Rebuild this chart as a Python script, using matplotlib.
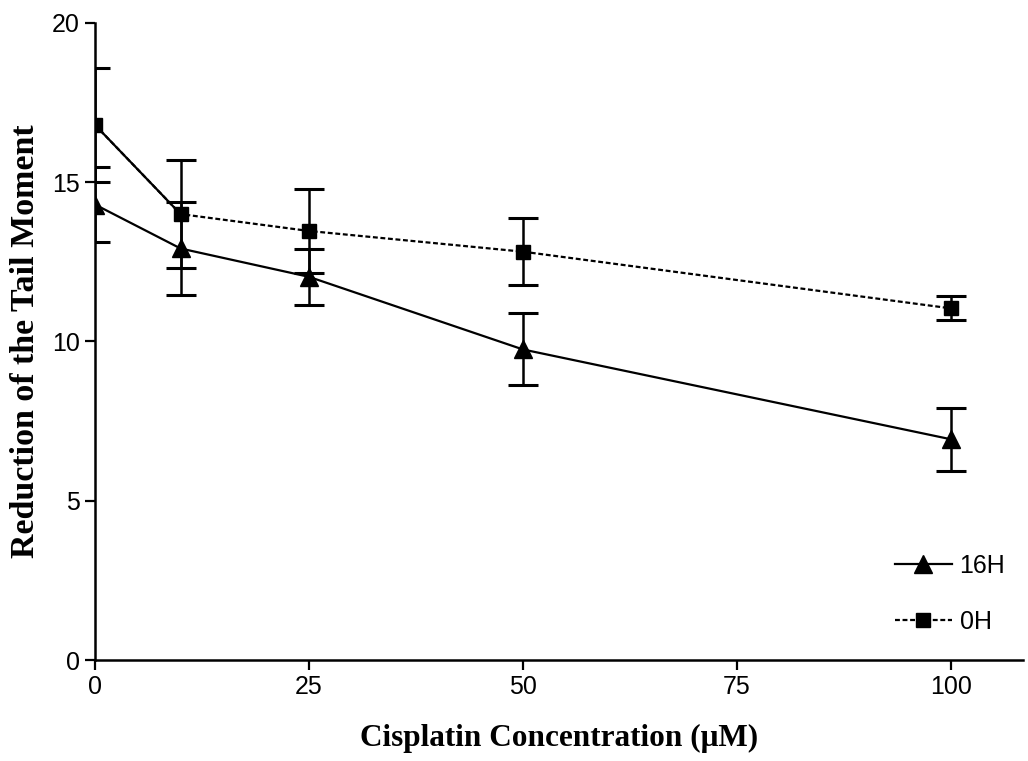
import matplotlib.pyplot as plt
import numpy as np

# cisplatin concentration (uM)
conc = [0, 10, 25, 50, 100]

# reduction of tail moment, 16 h
tm_16h = [14.3, 12.92, 12.03, 9.75, 6.93]
err_16h = [1.17, 1.45, 0.88, 1.13, 0.99]

# reduction of tail moment, 0 h
tm_0h = [16.8, 14.0, 13.47, 12.82, 11.04]
err_0h = [1.8, 1.7, 1.31, 1.06, 0.38]

xticks = [0, 25, 50, 75, 100]
yticks = [0, 5, 10, 15, 20]

fig = plt.figure(figsize=(10.28, 7.61), dpi=100)
ax = fig.add_axes([0.0924, 0.1327, 0.9026, 0.8371])

sans = 'Liberation Sans'
serif = 'Liberation Serif'

# error bars (no line)
ax.errorbar(conc, tm_16h, yerr=err_16h, fmt='none', ecolor='black',
            capsize=11, capthick=2.2, elinewidth=1.8, zorder=2)
ax.errorbar(conc, tm_0h, yerr=err_0h, fmt='none', ecolor='black',
            capsize=11, capthick=2.2, elinewidth=1.8, zorder=2)

# 16H: solid line, triangles
ax.plot(conc, tm_16h, color='black', lw=1.6, marker='^', ms=13, label='16H', zorder=3)

# 0H: dashed line, squares (first segment drawn solid as in the source)
ax.plot(conc, tm_0h, color='black', lw=1.6, ls=(0, (2.2, 1.2)),
        marker='s', ms=10.5, label='0H', zorder=3)
ax.plot(conc[:2], tm_0h[:2], color='black', lw=1.6, zorder=2)

ax.set_xlim(0, 108.4)
ax.set_ylim(0, 20)
ax.set_xticks(xticks)
ax.set_yticks(yticks)
for s in ['top', 'right']:
    ax.spines[s].set_visible(False)
for s in ['left', 'bottom']:
    ax.spines[s].set_linewidth(1.8)
ax.tick_params(direction='out', length=7, width=1.6, labelsize=18, pad=4)
for lab in ax.get_xticklabels() + ax.get_yticklabels():
    lab.set_family(sans)

ax.set_xlabel('Cisplatin Concentration (\u03bcM)', family=serif, fontweight='bold',
              fontsize=22.5, labelpad=18)
ax.set_ylabel('Reduction of the Tail Moment', family=serif, fontweight='bold',
              fontsize=24.5, labelpad=8)

leg = ax.legend(loc='lower right', bbox_to_anchor=(1.0, 0.013), frameon=False,
                prop={'family': sans, 'size': 18}, handlelength=2.3,
                handletextpad=0.3, labelspacing=1.3, borderaxespad=0.3)

fig.savefig('out.png', dpi=100)
